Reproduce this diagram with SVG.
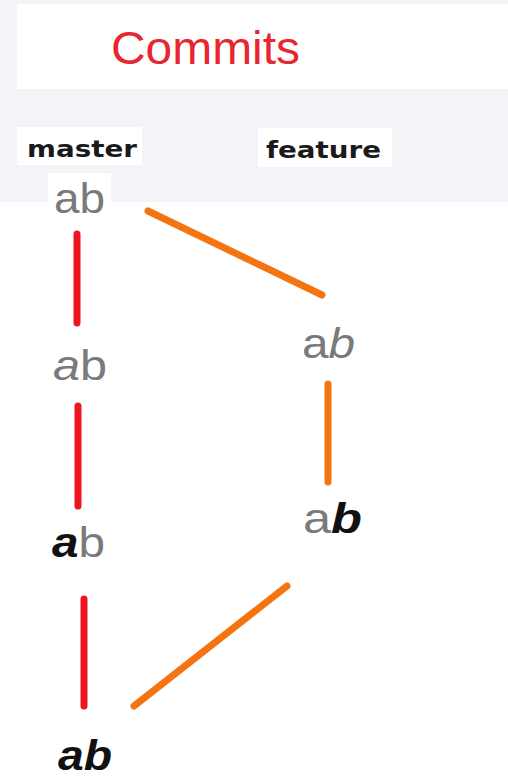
<svg xmlns="http://www.w3.org/2000/svg" width="508" height="778" viewBox="0 0 508 778">
<style>
.ab{font-family:"Liberation Sans","DejaVu Sans",sans-serif;font-size:42px;fill:#7a7a7a}
.it{font-style:italic}
.bi{font-style:italic;font-weight:bold;fill:#111}
.lbl{font-family:"DejaVu Sans","Liberation Sans",sans-serif;font-weight:bold;font-size:23px;fill:#1a1a1a}
.red{stroke:#ee1520;stroke-width:7;stroke-linecap:round;fill:none}
.org{stroke:#f57412;stroke-width:7;stroke-linecap:round;fill:none}
</style>
<rect x="0" y="0" width="508" height="778" fill="#ffffff"/>
<rect x="0" y="0" width="508" height="202" fill="#f3f4f7"/>
<rect x="17" y="4" width="491" height="85" fill="#ffffff"/>
<rect x="48" y="173" width="63" height="29" fill="#ffffff"/>
<g id="title"><text x="111" y="64" font-family="Liberation Sans,Open Sans,sans-serif" font-size="46" fill="#e8262f" textLength="189" lengthAdjust="spacingAndGlyphs">Commits</text></g>
<g id="master-label"><rect x="17" y="127" width="125" height="38" fill="#ffffff"/><text class="lbl" x="27" y="157" textLength="110" lengthAdjust="spacingAndGlyphs">master</text></g>
<g id="feature-label"><rect x="258" y="128" width="134" height="39" fill="#ffffff"/><text class="lbl" x="266" y="158" textLength="115" lengthAdjust="spacingAndGlyphs">feature</text></g>
<g id="connectors">
<line class="red" x1="77" y1="234" x2="77" y2="323"/>
<line class="red" x1="78" y1="406" x2="78" y2="506"/>
<line class="red" x1="84" y1="599" x2="84" y2="706"/>
<line class="org" x1="148" y1="211" x2="322" y2="295"/>
<line class="org" x1="328" y1="384" x2="328" y2="482"/>
<line class="org" x1="287" y1="586" x2="134" y2="706"/>
</g>
<g id="m1"><text class="ab" x="54" y="213" textLength="51" lengthAdjust="spacingAndGlyphs">ab</text></g>
<g id="m2"><text class="ab" x="53" y="380" textLength="54" lengthAdjust="spacingAndGlyphs"><tspan class="it">a</tspan>b</text></g>
<g id="m3"><text class="ab" x="52" y="557" textLength="53" lengthAdjust="spacingAndGlyphs"><tspan class="bi">a</tspan>b</text></g>
<g id="m4"><text class="ab bi" x="58" y="770" textLength="54" lengthAdjust="spacingAndGlyphs">ab</text></g>
<g id="f1"><text class="ab" x="302" y="358" textLength="53" lengthAdjust="spacingAndGlyphs">a<tspan class="it">b</tspan></text></g>
<g id="f2"><text class="ab" x="303" y="533" textLength="59" lengthAdjust="spacingAndGlyphs">a<tspan class="bi">b</tspan></text></g>
</svg>
